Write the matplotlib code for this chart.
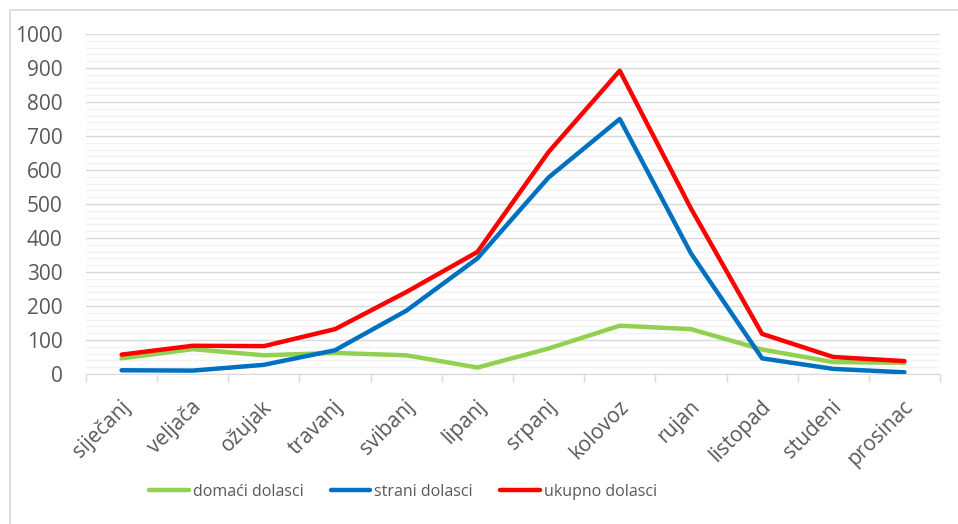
import matplotlib.pyplot as plt
from matplotlib.lines import Line2D
import matplotlib.transforms as mtransforms
import numpy as np

months = ['siječanj', 'veljača', 'ožujak', 'travanj', 'svibanj', 'lipanj',
          'srpanj', 'kolovoz', 'rujan', 'listopad', 'studeni', 'prosinac']
domaci = [46, 73, 55, 62, 55, 19, 75, 142, 132, 72, 35, 33]
strani = [11, 10, 27, 70, 186, 340, 578, 750, 355, 46, 15, 5]
ukupno = [57, 83, 82, 132, 241, 359, 653, 892, 487, 118, 50, 38]

plt.rcParams['font.family'] = ['Open Sans', 'DejaVu Sans']
text_col = '#595959'

fig = plt.figure(figsize=(9.58, 5.24), dpi=100)
# chart area border: only left and top edges are visible in the picture
fig.lines.append(Line2D([9.5 / 958, 9.5 / 958, 1], [0, 1 - 10 / 524, 1 - 10 / 524],
                        transform=fig.transFigure, color='#D9D9D9', lw=1.2))
ax = fig.add_axes([86 / 958, 1 - 374 / 524, 854 / 958, 340 / 524])

x = np.arange(len(months))
ax.plot(x, domaci, color='#92D050', lw=3.2, label='domaći dolasci', solid_capstyle='round')
ax.plot(x, strani, color='#0070C0', lw=3.2, label='strani dolasci', solid_capstyle='round')
ax.plot(x, ukupno, color='#FF0000', lw=3.2, label='ukupno dolasci', solid_capstyle='round')

ax.set_xlim(-0.5, len(months) - 0.5)
ax.set_ylim(0, 1000)
ax.set_yticks(np.arange(0, 1001, 100))
ax.set_yticks(np.arange(0, 1001, 20), minor=True)
ax.grid(True, which='major', axis='y', color='#D9D9D9', lw=1)
ax.grid(True, which='minor', axis='y', color='#F2F2F2', lw=1)
ax.set_axisbelow(True)

ax.set_xticks(x)
ax.set_xticklabels(months, rotation=45, ha='right', rotation_mode='anchor')
ax.set_xticks(np.arange(-0.5, len(months)), minor=True)
ax.tick_params(axis='x', which='major', length=0, pad=16, labelsize=15, labelcolor=text_col)
ax.tick_params(axis='x', which='minor', length=6, color='#D9D9D9', width=1)
ax.tick_params(axis='y', which='both', length=0, pad=17, labelsize=15, labelcolor=text_col)
shift = mtransforms.ScaledTranslation(-2 / 100, 0, fig.dpi_scale_trans)
for lbl in ax.get_xticklabels():
    lbl.set_transform(lbl.get_transform() + shift)

for s in ['top', 'right', 'left']:
    ax.spines[s].set_visible(False)
ax.spines['bottom'].set_color('#D9D9D9')

fig.legend(loc='center', bbox_to_anchor=(403 / 958, 1 - 492 / 524), ncol=3,
           frameon=False, fontsize=11.5, labelcolor=text_col, handlelength=2.5,
           handletextpad=0.25, columnspacing=1.7)

fig.savefig('out.png', dpi=100)
